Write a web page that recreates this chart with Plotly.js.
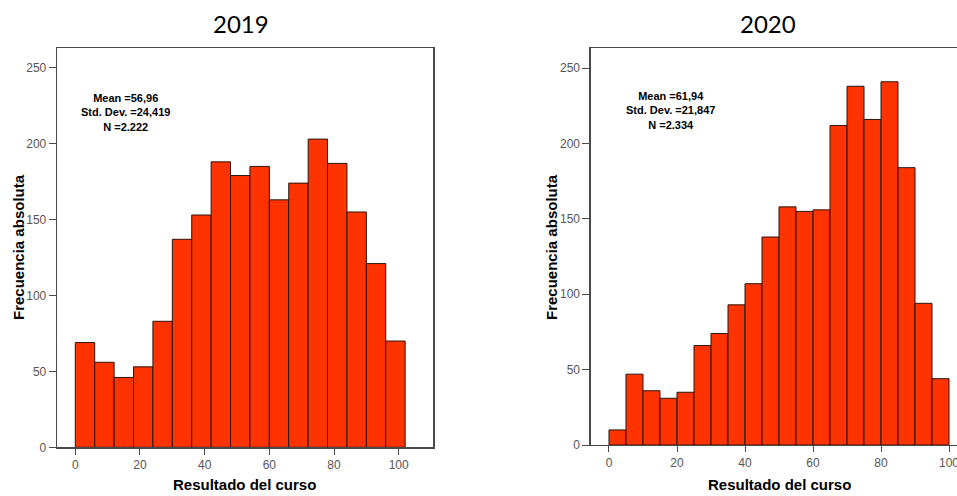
<!DOCTYPE html>
<html>
<head>
<meta charset="utf-8">
<script src="https://cdn.plot.ly/plotly-3.0.1.min.js"></script>
<style>html,body{margin:0;padding:0;background:#fff;}#chart{width:957px;height:496px;}</style>
</head>
<body>
<div id="chart"></div>
<script>
// ---- data ----
const titles = ["2019", "2020"];
const bins2019 = [0, 6, 12, 18, 24, 30, 36, 42, 48, 54, 60, 66, 72, 78, 84, 90, 96];
const counts2019 = [69, 56, 46, 53, 83, 137, 153, 188, 179, 185, 163, 174, 203, 187, 155, 121, 70];
const binWidth2019 = 6;
const bins2020 = [0, 5, 10, 15, 20, 25, 30, 35, 40, 45, 50, 55, 60, 65, 70, 75, 80, 85, 90, 95];
const counts2020 = [10, 47, 36, 31, 35, 66, 74, 93, 107, 138, 158, 155, 156, 212, 238, 216, 241, 184, 94, 44];
const binWidth2020 = 5;
const stats2019 = ["Mean =56,96", "Std. Dev. =24,419", "N =2.222"];
const stats2020 = ["Mean =61,94", "Std. Dev. =21,847", "N =2.334"];
const xTitle = "Resultado del curso";
const yTitle = "Frecuencia absoluta";

// ---- styles ----
const W = 957, H = 496;
const barColor = "#ff3300";
const barLine = "#2a150d";
const axisColor = "#4a4a4a";
const FAM = "Arial, 'Liberation Sans', sans-serif";
const tickFont = {family: FAM, size: 12, color: "#555555"};
const boldFont = (s) => ({family: FAM, size: s, color: "#000", weight: "bold"});

const px = (x) => x / W;
const py = (y) => 1 - y / H;

const traces = [
  {type: "bar", x: bins2019, y: counts2019, width: binWidth2019, offset: 0,
   marker: {color: barColor, line: {color: barLine, width: 1}}, xaxis: "x", yaxis: "y", hoverinfo: "x+y"},
  {type: "bar", x: bins2020, y: counts2020, width: binWidth2020, offset: 0,
   marker: {color: barColor, line: {color: barLine, width: 1}}, xaxis: "x2", yaxis: "y2", hoverinfo: "x+y"}
];

const axBase = {
  showgrid: false, zeroline: false, showline: true, linecolor: axisColor, linewidth: 1.3,
  ticks: "outside", ticklen: 6, tickwidth: 1, tickcolor: axisColor, tickfont: tickFont, fixedrange: true,
  ticklabeloverflow: "allow"
};

const layout = {
  width: W, height: H,
  margin: {l: 0, r: 0, t: 0, b: 0, pad: 0},
  paper_bgcolor: "#fff", plot_bgcolor: "#fff",
  showlegend: false,
  xaxis: Object.assign({}, axBase, {domain: [px(57), px(433.3)], range: [-5.66, 110.7], tick0: 0, dtick: 20, mirror: true, anchor: "y"}),
  yaxis: Object.assign({}, axBase, {domain: [1 - 447.3 / H, 1 - 48 / H], range: [0, 263], tick0: 0, dtick: 50, mirror: true, anchor: "x", ticklen: 7}),
  xaxis2: Object.assign({}, axBase, {domain: [px(590.7), 1], range: [-5.38, 102.35], tick0: 0, dtick: 20, mirror: true, anchor: "y2"}),
  yaxis2: Object.assign({}, axBase, {domain: [1 - 445 / H, 1 - 48.3 / H], range: [0, 263.2], tick0: 0, dtick: 50, mirror: false, anchor: "x2", ticklen: 7}),
  annotations: []
};

function addText(text, x, y, font, angle) {
  layout.annotations.push({text: text, xref: "paper", yref: "paper", x: px(x), y: py(y),
    xanchor: "center", yanchor: "middle", showarrow: false, font: font, textangle: angle || 0,
    borderpad: 0, align: "center"});
}

addText(titles[0], 241.5, 23, {family: "Lato, 'Open Sans', sans-serif", size: 24, color: "#000"});
addText(titles[1], 768, 23, {family: "Lato, 'Open Sans', sans-serif", size: 24, color: "#000"});
addText(xTitle, 244, 484.5, boldFont(15));
addText(xTitle, 779, 484.5, boldFont(15));
addText(yTitle, 18.5, 247.5, boldFont(15), -90);
addText(yTitle, 551, 247, boldFont(15), -90);

addText(stats2019.join("<br>"), 125.3, 112.5, boldFont(11));
addText(stats2020.join("<br>"), 670, 110.5, boldFont(11));

Plotly.newPlot("chart", traces, layout, {displayModeBar: false, staticPlot: true});
</script>
</body>
</html>
